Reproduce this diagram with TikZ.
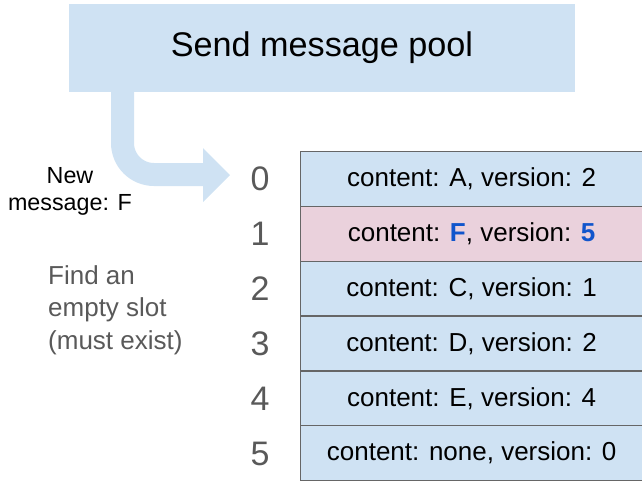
\documentclass[tikz,border=0pt]{standalone}
\usepackage{fontspec}
\setmainfont{Liberation Sans}
\definecolor{cellblue}{HTML}{CFE2F3}
\definecolor{cellpink}{HTML}{EAD1DC}
\definecolor{hiblue}{HTML}{1155CC}
\definecolor{digitgray}{HTML}{595959}
\definecolor{bordergray}{HTML}{666666}
\begin{document}
\begin{tikzpicture}[x=1pt,y=1pt,
  cell/.style={draw=bordergray, line width=1.3pt, fill=cellblue, minimum width=342pt, minimum height=54.8pt, inner sep=0pt, anchor=north west, font=\fontsize{26}{30}\selectfont},
  idx/.style={text=digitgray, font=\fontsize{34}{38}\selectfont, inner sep=0pt},
  titlebox/.style={fill=cellblue, minimum width=506pt, minimum height=88pt, inner sep=0pt, font=\fontsize{34.2}{40}\selectfont},
  flow/.style={cellblue, line width=23pt},
  note/.style={align=center, font=\fontsize{23.3}{27}\selectfont, inner sep=0pt},
  graynote/.style={align=left, text=digitgray, font=\fontsize{26}{32.5}\selectfont, inner sep=0pt}
]
\useasboundingbox (0,0) rectangle (642,-480);
\node[titlebox] (title) at (322,-48) {Send message pool};
% arrow
\coordinate (s0) at (122.5,-92);
\coordinate (s1) at (122.5,-143);
\coordinate (hb) at (204,-174.5);
\draw[flow] (s0) -- (s1) arc[start angle=180, end angle=270, radius=31.5] -- (hb);
\fill[cellblue] (203,-148) -- (230,-175) -- (203,-202) -- cycle;
% table
\node[cell] (c0) at (300,-151) {content: A, version: 2};
\node[cell, fill=cellpink] (c1) at (300,-205.8) {content: \textcolor{hiblue}{\bfseries F}, version: \textcolor{hiblue}{\bfseries 5}};
\node[cell] (c2) at (300,-260.6) {content: C, version: 1};
\node[cell] (c3) at (300,-315.4) {content: D, version: 2};
\node[cell] (c4) at (300,-370.2) {content: E, version: 4};
\node[cell] (c5) at (300,-425) {content: none, version: 0};
% indices
\node[idx] (i0) at (260,-179) {0};
\node[idx] (i1) at (260,-234) {1};
\node[idx] (i2) at (260,-289) {2};
\node[idx] (i3) at (260,-344) {3};
\node[idx] (i4) at (260,-399) {4};
\node[idx] (i5) at (260,-454) {5};
% notes
\node[note] (newmsg) at (70,-191) {New\\message: F};
\node[graynote, anchor=west] (find) at (48,-310) {Find an\\empty slot\\(must exist)};
\end{tikzpicture}
\end{document}
